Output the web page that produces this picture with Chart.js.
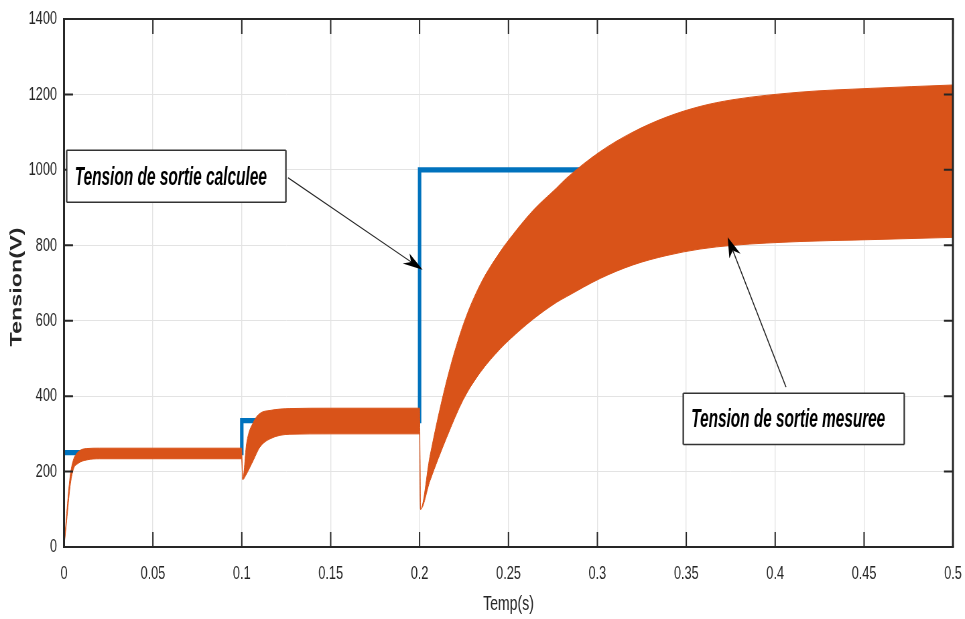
<!DOCTYPE html>
<html>
<head>
<meta charset="utf-8">
<script src="https://cdn.jsdelivr.net/npm/chart.js@4.4.1/dist/chart.umd.min.js"></script>
<style>
  html, body { margin: 0; padding: 0; background: #fff; overflow: hidden; }
  /* the original figure was exported squeezed horizontally: draw wide, then squeeze */
  #wrap { width: 1440px; height: 619px; transform: scaleX(0.6701); transform-origin: 0 0; }
</style>
</head>
<body>
<div id="wrap"><canvas id="chart"></canvas></div>
<script>
const S = 0.6701; // horizontal squeeze, screen px = canvas px * S

// axis ticks
const xTicks = [0, 0.05, 0.1, 0.15, 0.2, 0.25, 0.3, 0.35, 0.4, 0.45, 0.5];
const yTicks = [0, 200, 400, 600, 800, 1000, 1200, 1400];

// calculated output voltage (reference steps)
const refTime = [0, 0.1, 0.2, 0.5];
const refVolt = [250, 335, 1000, 1000];

// measured output voltage, top of the ripple band
const upperTime = [
  0, 0.0015, 0.0034, 0.0052, 0.008, 0.0128, 0.02, 0.05, 0.0999,
  0.1005, 0.1027, 0.1065, 0.1102, 0.1159, 0.1271, 0.1496, 0.2,
  0.2005, 0.2058, 0.2152, 0.2246, 0.234, 0.2452, 0.2508, 0.2638, 0.2771, 0.2827,
  0.3015, 0.32, 0.339, 0.3577, 0.3763, 0.414, 0.4533, 0.5
];
const upperVolt = [
  0, 89, 186, 230, 252, 261, 262, 262, 262,
  179, 275, 331, 354, 362, 367, 368, 368,
  100, 240, 440, 590, 695, 782, 818, 892, 952, 978,
  1048, 1100, 1140, 1168, 1186, 1206, 1216, 1225
];

// measured output voltage, bottom of the ripple band
const lowerTime = [
  0, 0.0015, 0.0034, 0.0052, 0.008, 0.0128, 0.02, 0.05, 0.0999,
  0.1005, 0.1027, 0.1065, 0.1102, 0.1159, 0.1271, 0.1496, 0.2,
  0.2005, 0.2058, 0.2152, 0.2246, 0.234, 0.2452, 0.2508, 0.2638, 0.2771, 0.2827,
  0.3015, 0.32, 0.339, 0.3577, 0.3763, 0.414, 0.4533, 0.5
];
const lowerVolt = [
  0, 70, 160, 205, 222, 231, 234, 234, 234,
  179, 194, 230, 265, 287, 299, 300, 300,
  100, 175, 290, 391, 462, 525, 551, 604, 649, 664,
  712, 748, 773, 790, 800, 810, 815, 821
];

const BLUE = '#0072BD';
const ORANGE = '#D95319';
const AXIS = '#262626';
const GRID = '#e3e3e3';
const FONT = "'Liberation Sans', Arial, Helvetica, sans-serif";

// text boxes with arrows, placed in data units
const notes = [
  { text: 'Tension de sortie calculee', x0: 0.0015, y0: 1052, x1: 0.1248, y1: 914, from: [0.126, 979], to: [0.2017, 735] },
  { text: 'Tension de sortie mesuree', x0: 0.3483, y0: 408, x1: 0.4726, y1: 272, from: [0.4061, 424], to: [0.3733, 821] }
];

const pts = (xs, ys) => xs.map((x, i) => ({ x: x, y: ys[i] }));

// matlab style box with inward ticks on all four sides
const frame = {
  id: 'frame',
  afterDatasetsDraw(chart) {
    const { ctx, chartArea: a, scales: { x, y } } = chart;
    ctx.save();
    ctx.strokeStyle = AXIS;
    ctx.lineWidth = 2;
    ctx.beginPath();
    ctx.moveTo(a.left - 1.5, a.top); ctx.lineTo(a.right + 1.5, a.top);
    ctx.moveTo(a.left - 1.5, a.bottom); ctx.lineTo(a.right + 1.5, a.bottom);
    x.ticks.forEach(t => {
      const px = x.getPixelForValue(t.value);
      ctx.moveTo(px, a.bottom); ctx.lineTo(px, a.bottom - 15);
      ctx.moveTo(px, a.top); ctx.lineTo(px, a.top + 15);
    });
    ctx.stroke();
    ctx.lineWidth = 2 / S;
    ctx.beginPath();
    ctx.moveTo(a.left, a.top); ctx.lineTo(a.left, a.bottom);
    ctx.moveTo(a.right, a.top); ctx.lineTo(a.right, a.bottom);
    ctx.stroke();
    ctx.lineWidth = 2;
    ctx.beginPath();
    y.ticks.forEach(t => {
      const py = y.getPixelForValue(t.value);
      ctx.moveTo(a.left, py); ctx.lineTo(a.left + 9 / S, py);
      ctx.moveTo(a.right, py); ctx.lineTo(a.right - 9 / S, py);
    });
    ctx.stroke();

    // y title
    ctx.translate(a.left - 46.5 / S, (a.top + a.bottom) / 2 + 4);
    ctx.rotate(-Math.PI / 2);
    ctx.font = 'bold 23px ' + FONT;
    const w = ctx.measureText('Tension(V)').width;
    ctx.scale(119 / w, 1);
    ctx.fillStyle = AXIS;
    ctx.textAlign = 'center';
    ctx.textBaseline = 'middle';
    ctx.fillText('Tension(V)', 0, 0);
    ctx.restore();
  }
};

// arrow drawn in screen space so the head keeps its shape after the squeeze
function drawArrow(ctx, x1, y1, x2, y2) {
  ctx.save();
  ctx.scale(1 / S, 1);
  x1 *= S; x2 *= S;
  const ang = Math.atan2(y2 - y1, x2 - x1);
  const len = 20, half = 6, notch = 14;
  const cos = Math.cos(ang), sin = Math.sin(ang);
  ctx.beginPath();
  ctx.moveTo(x1, y1);
  ctx.lineTo(x2 - notch * cos, y2 - notch * sin);
  ctx.stroke();
  ctx.beginPath();
  ctx.moveTo(x2, y2);
  ctx.lineTo(x2 - len * cos - half * sin, y2 - len * sin + half * cos);
  ctx.lineTo(x2 - notch * cos, y2 - notch * sin);
  ctx.lineTo(x2 - len * cos + half * sin, y2 - len * sin - half * cos);
  ctx.closePath();
  ctx.fill();
  ctx.restore();
}

const annotate = {
  id: 'annotate',
  afterDraw(chart) {
    const { ctx, scales: { x, y } } = chart;
    ctx.save();
    notes.forEach(n => {
      const l = x.getPixelForValue(n.x0), r = x.getPixelForValue(n.x1);
      const t = y.getPixelForValue(n.y0), b = y.getPixelForValue(n.y1);
      ctx.fillStyle = '#fff';
      ctx.fillRect(l, t, r - l, b - t);
      ctx.strokeStyle = '#333';
      ctx.lineWidth = 1.5;
      ctx.beginPath();
      ctx.moveTo(l, t); ctx.lineTo(r, t); ctx.moveTo(l, b); ctx.lineTo(r, b);
      ctx.stroke();
      ctx.lineWidth = 1.5 / S;
      ctx.beginPath();
      ctx.moveTo(l, t); ctx.lineTo(l, b); ctx.moveTo(r, t); ctx.lineTo(r, b);
      ctx.stroke();

      ctx.save();
      ctx.font = 'italic bold 25px ' + FONT;
      const w = ctx.measureText(n.text).width;
      ctx.translate(l + 8 / S, b - 17);
      ctx.scale((r - l - 27 / S) / w, 1);
      ctx.fillStyle = '#000';
      ctx.fillText(n.text, 0, 0);
      ctx.restore();

      ctx.strokeStyle = '#222';
      ctx.fillStyle = '#000';
      ctx.lineWidth = 1.1;
      drawArrow(ctx, x.getPixelForValue(n.from[0]), y.getPixelForValue(n.from[1]),
        x.getPixelForValue(n.to[0]), y.getPixelForValue(n.to[1]));
    });
    ctx.restore();
  }
};

new Chart(document.getElementById('chart'), {
  type: 'line',
  data: {
    datasets: [
      { label: 'mesuree bas', data: pts(lowerTime, lowerVolt), borderColor: ORANGE, borderWidth: 1,
        pointRadius: 0, fill: false, cubicInterpolationMode: 'monotone', order: 1 },
      { label: 'mesuree haut', data: pts(upperTime, upperVolt), borderColor: ORANGE, backgroundColor: ORANGE,
        borderWidth: 1, pointRadius: 0, fill: '-1', cubicInterpolationMode: 'monotone', order: 1 },
      { label: 'calculee', data: pts(refTime, refVolt), borderColor: BLUE, borderWidth: 5.2,
        borderJoinStyle: 'miter', stepped: 'before', pointRadius: 0, fill: false, order: 2 }
    ]
  },
  options: {
    responsive: true,
    maintainAspectRatio: false,
    animation: false,
    layout: { padding: { top: 19, right: 12 / S, left: 0, bottom: 0 } },
    plugins: { legend: { display: false }, tooltip: { enabled: false } },
    scales: {
      x: {
        type: 'linear', min: 0, max: 0.5,
        afterBuildTicks: s => { s.ticks = xTicks.map(v => ({ value: v })); },
        afterFit: s => { s.height = 72; s.paddingLeft = 0; s.paddingRight = 0; },
        grid: { color: GRID, lineWidth: 1.4, drawTicks: false },
        border: { display: false },
        ticks: { padding: 15, color: AXIS, font: { family: FONT, size: 19 }, callback: v => String(v) },
        title: { display: true, text: 'Temp(s)', color: AXIS, font: { family: FONT, size: 21 }, padding: { top: 0, bottom: 2 } }
      },
      y: {
        min: 0, max: 1400,
        afterBuildTicks: s => { s.ticks = yTicks.map(v => ({ value: v })); },
        afterFit: s => { s.width = 64 / S; s.paddingTop = 0; s.paddingBottom = 0; },
        grid: { color: GRID, drawTicks: false },
        border: { display: false },
        ticks: { padding: 7 / S, color: AXIS, font: { family: FONT, size: 19 }, callback: v => String(v) }
      }
    }
  },
  plugins: [frame, annotate]
});
</script>
</body>
</html>
